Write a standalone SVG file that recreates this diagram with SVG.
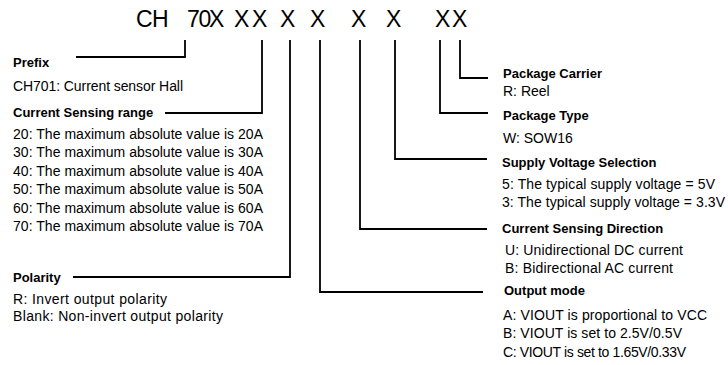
<svg xmlns="http://www.w3.org/2000/svg" width="728" height="365" viewBox="0 0 728 365">
<style>
.t{font-family:"Liberation Sans",Arial,sans-serif;font-size:23px;fill:#000}
.h{font-family:"Liberation Sans",Arial,sans-serif;font-size:13px;font-weight:bold;fill:#000}
.b{font-family:"Liberation Sans",Arial,sans-serif;font-size:14px;fill:#000}
.c{fill:none;stroke:#000;stroke-width:1.8}
</style>
<rect width="728" height="365" fill="#fff"/>
<g id="title">
<text class="t" y="27"><tspan x="136 152">CH</tspan> <tspan x="187 198.5 209">70X</tspan> <tspan x="234 252">XX</tspan> <tspan x="280">X</tspan> <tspan x="310">X</tspan> <tspan x="351">X</tspan> <tspan x="386">X</tspan> <tspan x="435 452">XX</tspan></text>
</g>
<g id="connectors">
<polyline class="c" points="185,40 185,57 76,57"/>
<polyline class="c" points="262,40 262,113 165,113"/>
<polyline class="c" points="290,40 290,277 73,277"/>
<polyline class="c" points="320,40 320,292 483,292"/>
<polyline class="c" points="360,40 360,229 487,229"/>
<polyline class="c" points="395,40 395,159 487,159"/>
<polyline class="c" points="440,40 440,113 488,113"/>
<polyline class="c" points="460,40 460,78 488,78"/>
</g>
<g id="prefix">
<text class="h" x="13" y="67">Prefix</text>
<text class="b" x="13" y="91" textLength="170" lengthAdjust="spacing">CH701: Current sensor Hall</text>
</g>
<g id="range">
<text class="h" x="13" y="117">Current Sensing range</text>
<text class="b" x="13" y="139" textLength="250" lengthAdjust="spacing">20: The maximum absolute value is 20A</text>
<text class="b" x="13" y="157" textLength="250" lengthAdjust="spacing">30: The maximum absolute value is 30A</text>
<text class="b" x="13" y="176" textLength="250" lengthAdjust="spacing">40: The maximum absolute value is 40A</text>
<text class="b" x="13" y="194" textLength="250" lengthAdjust="spacing">50: The maximum absolute value is 50A</text>
<text class="b" x="13" y="213" textLength="250" lengthAdjust="spacing">60: The maximum absolute value is 60A</text>
<text class="b" x="13" y="231" textLength="250" lengthAdjust="spacing">70: The maximum absolute value is 70A</text>
</g>
<g id="polarity">
<text class="h" x="13" y="282">Polarity</text>
<text class="b" x="13" y="304" textLength="154" lengthAdjust="spacing">R: Invert output polarity</text>
<text class="b" x="13" y="321" textLength="210" lengthAdjust="spacing">Blank: Non-invert output polarity</text>
</g>
<g id="carrier">
<text class="h" x="503" y="78">Package Carrier</text>
<text class="b" x="503" y="96">R: Reel</text>
</g>
<g id="type">
<text class="h" x="503" y="120">Package Type</text>
<text class="b" x="503" y="143">W: SOW16</text>
</g>
<g id="voltage">
<text class="h" x="502" y="167">Supply Voltage Selection</text>
<text class="b" x="502" y="189" textLength="213" lengthAdjust="spacing">5:  The typical supply voltage = 5V</text>
<text class="b" x="502" y="207" textLength="223" lengthAdjust="spacing">3:  The typical supply voltage = 3.3V</text>
</g>
<g id="direction">
<text class="h" x="502" y="233">Current Sensing Direction</text>
<text class="b" x="505" y="255" textLength="178" lengthAdjust="spacing">U: Unidirectional DC current</text>
<text class="b" x="505" y="273" textLength="168" lengthAdjust="spacing">B: Bidirectional AC current</text>
</g>
<g id="output">
<text class="h" x="504" y="295">Output mode</text>
<text class="b" x="503" y="320" textLength="204" lengthAdjust="spacing">A: VIOUT is proportional to VCC</text>
<text class="b" x="503" y="338" textLength="179" lengthAdjust="spacing">B: VIOUT is set to 2.5V/0.5V</text>
<text class="b" x="503" y="357" textLength="183" lengthAdjust="spacing">C: VIOUT is set to 1.65V/0.33V</text>
</g>
</svg>
